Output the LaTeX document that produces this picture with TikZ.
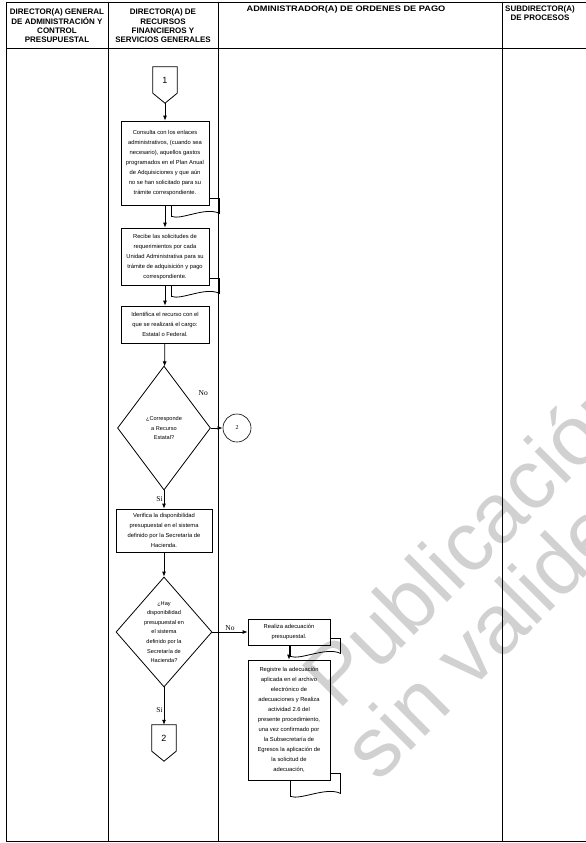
\documentclass[tikz,border=0pt]{standalone}
\usepackage{fontspec}
\setmainfont{Liberation Sans}
\newfontfamily\romana{Liberation Serif}
\usetikzlibrary{arrows.meta,calc,shapes.geometric}

% document symbol tail at the lower right corner of a box
\newcommand{\docpie}[3]{%
  \draw[line width=0.8pt] ($(#1.south east)+(0,-7)$) -- ($(#1.south east)+(10,-7)$)
    -- ($(#1.south east)+(10,#2)$)
    .. controls +(-14,-7) and +(10,4) .. ($(#1.south east)+(-#3,#2+3)$)
    -- ($(#1.south east)+(-#3,0)$);}

\begin{document}
\begin{tikzpicture}[x=1pt,y=-1pt,
    >={Latex[length=5pt,width=4pt]},
    tabla/.style={line width=0.6pt},
    head/.style={font=\fontsize{8}{9.3}\selectfont\bfseries,align=center,inner sep=0},
    proc/.style={draw,line width=0.8pt,align=center,inner sep=2pt,
      font=\fontsize{5.8}{10}\selectfont},
    decision/.style={draw,diamond,aspect=0.9,line width=0.8pt,inner sep=0,align=center,
      font=\fontsize{5.6}{9.6}\selectfont},
    offpage/.style={inner sep=0,minimum width=24pt,minimum height=26pt,font=\fontsize{9}{10}\selectfont},
    lbl/.style={font=\romana\fontsize{7.5}{8}\selectfont,inner sep=1pt},
    marca/.style={font=\fontsize{84}{84}\selectfont,text=black!18,inner sep=0}]
  \useasboundingbox (0,0) rectangle (586,843);

  \begin{scope}
    \clip (0,0) rectangle (586,843);
    \node[marca,rotate=45,anchor=base west] (m1) at (338,712) {Publicación};
    \node[marca,rotate=45,anchor=base west] (m2) at (378,784) {sin validez};
  \end{scope}

  \draw[tabla] (6,2) -- (586,2);
  \draw[tabla] (6,48) -- (586,48);
  \draw[tabla] (6,841) -- (586,841);
  \foreach \x in {6,108,218,502}
    \draw[tabla] (\x,2) -- (\x,841);

  \node[head] (h1) at (57,26) {DIRECTOR(A) GENERAL\\DE ADMINISTRACIÓN Y\\CONTROL\\PRESUPUESTAL};
  \node[head] (h2) at (163,26) {DIRECTOR(A) DE\\RECURSOS\\FINANCIEROS Y\\SERVICIOS GENERALES};
  \node[head,xscale=1.15] (h3) at (346,9) {ADMINISTRADOR(A) DE ORDENES DE PAGO};
  \node[head] (h4) at (540,13) {SUBDIRECTOR(A)\\DE PROCESOS};

  % connector 1
  \node[offpage] (p1) at (165,80) {1};
  \coordinate (p1tip) at ($(p1.south)+(0,10)$);
  \draw[line width=0.8pt] (p1.north west) -- (p1.north east) -- (p1.south east) -- (p1tip) -- (p1.south west) -- cycle;

  \node[proc,minimum width=88pt,minimum height=84pt] (b1) at (165,163)
    {Consulta con los enlaces\\administrativos, (cuando sea\\necesario), aquellos gastos\\programados en el Plan Anual\\de Adquisiciones y que aún\\no se han solicitado para su\\trámite correspondiente.};
  \node[proc,minimum width=88pt,minimum height=57pt] (b2) at (165,256.5)
    {Recibe las solicitudes de\\requerimientos por cada\\Unidad Administrativa para su\\trámite de adquisición y pago\\correspondiente.};
  \node[proc,minimum width=88pt,minimum height=37pt] (b3) at (165,324.5)
    {Identifica el recurso con el\\que se realizará el cargo:\\Estatal o Federal.};
  \node[decision,minimum width=93pt,minimum height=124pt] (d1) at (164,428)
    {¿Corresponde\\a Recurso\\Estatal?};
  \node[draw,circle,line width=0.6pt,minimum size=28pt,inner sep=0,font=\romana\fontsize{6}{7}\selectfont] (c2) at (237,428) {2};
  \node[proc,minimum width=96pt,minimum height=43pt] (b4) at (164,530.5)
    {Verifica la disponibilidad\\presupuestal en el sistema\\definido  por la Secretaría de\\Hacienda.};
  \node[decision,minimum width=96pt,minimum height=110pt] (d2) at (164,632)
    {¿Hay\\disponibilidad\\presupuestal en\\el sistema\\definido  por la\\Secretaría de\\Hacienda?};

  % connector 2
  \node[offpage] (p2) at (164,738) {2};
  \coordinate (p2tip) at ($(p2.south)+(0,10)$);
  \draw[line width=0.8pt] (p2.north west) -- (p2.north east) -- (p2.south east) -- (p2tip) -- (p2.south west) -- cycle;

  \node[proc,minimum width=82pt,minimum height=26pt] (b5) at (289,632)
    {Realiza adecuación\\presupuestal.};
  \node[proc,minimum width=82pt,minimum height=120pt] (b6) at (289,720)
    {Registre la adecuación\\aplicada en  el archivo\\electrónico de\\adecuaciones y Realiza\\actividad 2.6  del\\presente procedimiento,\\una vez  confirmado por\\la Subsecretaría de\\Egresos la aplicación de\\la solicitud  de\\adecuación,};

  \docpie{b1}{8}{38}
  \docpie{b2}{8}{38}
  \docpie{b5}{8}{40}
  \docpie{b6}{13}{40}

  \draw[->,line width=0.8pt] (p1tip) -- (b1);
  \draw[->,line width=0.8pt] (b1) -- (b2);
  \draw[->,line width=0.8pt] (b2) -- (b3);
  \draw[->,line width=0.8pt] (b3) -- (d1);
  \draw[->,line width=0.8pt] (d1) -- (c2);
  \node[lbl,anchor=west] (no1) at ($(d1.north east)+(10,-4)$) {No};
  \draw[->,line width=0.8pt] (d1) -- node[lbl,left,pos=0.5] (si1) {Si} (b4);
  \draw[->,line width=0.8pt] (b4) -- (d2);
  \draw[->,line width=0.8pt] (d2) -- node[lbl,above] (no2) {No} (b5);
  \draw[->,line width=0.8pt] (d2) -- node[lbl,left,pos=0.6] (si2) {Si} (p2);
  \draw[->,line width=0.8pt] (b5) -- (b6);
\end{tikzpicture}
\end{document}
